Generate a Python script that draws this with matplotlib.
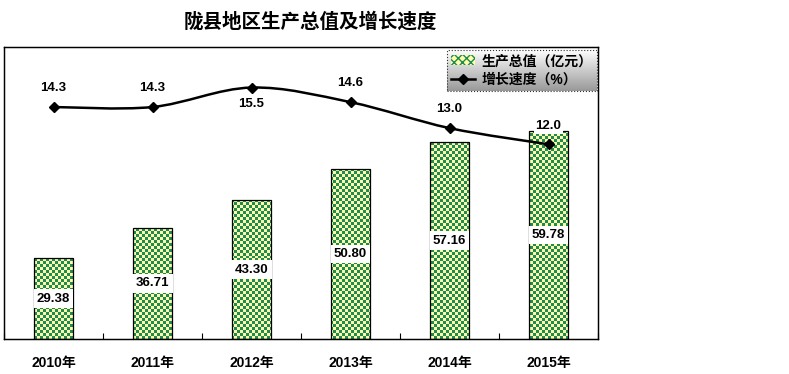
import numpy as np
import matplotlib
matplotlib.use("Agg")
import matplotlib.pyplot as plt
from matplotlib.path import Path
from matplotlib.patches import PathPatch, Patch
from matplotlib.lines import Line2D
from matplotlib.colors import ListedColormap

plt.rcParams['font.family'] = ['Liberation Sans', 'Noto Sans CJK SC', 'DejaVu Sans']

years = ["2010年", "2011年", "2012年", "2013年", "2014年", "2015年"]
gdp = [29.38, 36.71, 43.30, 50.80, 57.16, 59.78]
gdp_labels = ["29.38", "36.71", "43.30", "50.80", "57.16", "59.78"]
growth = [14.3, 14.3, 15.5, 14.6, 13.0, 12.0]
growth_labels = ["14.3", "14.3", "15.5", "14.6", "13.0", "12.0"]
title = "陇县地区生产总值及增长速度"
legend_labels = ["生产总值（亿元）", "增长速度（%）"]

W, H = 789, 374
fig = plt.figure(figsize=(W / 100, H / 100), dpi=100)
fig.patch.set_facecolor('white')

L, R, B, T = 4, 598, 339, 47
ax = fig.add_axes([L / W, 1 - B / H, (R - L) / W, (B - T) / H])
ax.set_xlim(-0.5, 5.5)
ax.set_ylim(10, 80)
ax2 = ax.twinx()
ax2.set_ylim(0, 18)
ax2.set_zorder(ax.get_zorder() + 1)
ax2.patch.set_visible(False)

green = '#1E8A55'
yellow = '#FFFFA8'

x = np.arange(len(years))
bars = ax.bar(x, [v - 10 for v in gdp], bottom=10, width=0.40,
              facecolor='none', edgecolor='black', linewidth=0.9, zorder=3)

# checker fill
aw, ah = (R - L), (B - T)
cell = 3
ny, nx = ah // cell + 1, aw // cell + 1
yy, xx = np.mgrid[0:ny, 0:nx]
chk = ((xx + yy) % 2).astype(float)
cmap = ListedColormap([yellow, green])
for b in bars:
    im = ax.imshow(chk, cmap=cmap, extent=(-0.5, 5.5, 10, 80), aspect='auto',
                   interpolation='nearest', zorder=2, origin='upper')
    im.set_clip_path(b)
ax.set_xlim(-0.5, 5.5)
ax.set_ylim(10, 80)

for i, (v, lab) in enumerate(zip(gdp, gdp_labels)):
    ax.text(i, (10 + v) / 2, lab, ha='center', va='center', fontsize=9.5,
            fontweight='bold', zorder=5,
            bbox=dict(boxstyle='square,pad=0.25', facecolor='white', edgecolor='none'))

# smooth line (Catmull-Rom -> Bezier)
pts = np.column_stack([x, growth]).astype(float)
verts = [tuple(pts[0])]
codes = [Path.MOVETO]
n = len(pts)
for i in range(n - 1):
    p0 = pts[max(i - 1, 0)]
    p1 = pts[i]
    p2 = pts[i + 1]
    p3 = pts[min(i + 2, n - 1)]
    c1 = p1 + (p2 - p0) / 6.0
    c2 = p2 - (p3 - p1) / 6.0
    verts += [tuple(c1), tuple(c2), tuple(p2)]
    codes += [Path.CURVE4] * 3
ax2.add_patch(PathPatch(Path(verts, codes), facecolor='none', edgecolor='black',
                        linewidth=1.8, zorder=4))
ax2.plot(x, growth, linestyle='none', marker='D', markersize=5.5,
         color='black', zorder=5)

offsets = [14, 14, -12, 14, 14, 13]
for i, (v, lab, off) in enumerate(zip(growth, growth_labels, offsets)):
    kw = {}
    if i == 5:
        kw['bbox'] = dict(boxstyle='square,pad=0.1', facecolor='white', edgecolor='none')
    ax2.annotate(lab, (i, v), xytext=(0, off), textcoords='offset points',
                 ha='center', va='center', fontsize=9.5, fontweight='bold', zorder=6, **kw)

# axes styling
for a in (ax, ax2):
    a.set_yticks([])
    for s in a.spines.values():
        s.set_color('black')
        s.set_linewidth(0.9)
ax.set_xticks(x)
ax.set_xticklabels(years, fontsize=10, fontweight='bold')
ax.tick_params(axis='x', which='major', length=0, pad=12)
ax.set_xticks(np.arange(-0.5, 6.0, 1.0), minor=True)
ax.tick_params(axis='x', which='minor', direction='in', length=4, width=0.8)

fig.text(310 / W, 1 - 22 / H, title, ha='center', va='center', fontsize=14,
         fontweight='bold', family=['Noto Sans CJK SC'])

# legend
handles = [Patch(facecolor=yellow, edgecolor=green, hatch='xxxx', linewidth=0),
           Line2D([0], [0], color='black', lw=1.8, marker='D', markersize=5)]
leg = fig.legend(handles, legend_labels, loc='upper right',
                 bbox_to_anchor=(597 / W, 1 - 50 / H), bbox_transform=fig.transFigure,
                 borderaxespad=0, prop={'weight': 'bold', 'size': 10},
                 handlelength=1.7, handletextpad=0.5, labelspacing=0.35,
                 borderpad=0.3, fancybox=False, frameon=True)
leg.set_zorder(10)
fr = leg.get_frame()
fr.set_facecolor('none')
fr.set_edgecolor('black')
fr.set_linestyle(':')
fr.set_linewidth(0.8)

fig.canvas.draw()
bb = leg.get_window_extent().transformed(fig.transFigure.inverted())
gax = fig.add_axes([bb.x0, bb.y0, bb.width, bb.height], zorder=5)
grad = np.linspace(1.0, 0.6, 64).reshape(-1, 1)
gax.imshow(grad, cmap='gray', vmin=0, vmax=1, aspect='auto', extent=(0, 1, 0, 1))
gax.set_axis_off()

fig.savefig('out.png', dpi=100)
